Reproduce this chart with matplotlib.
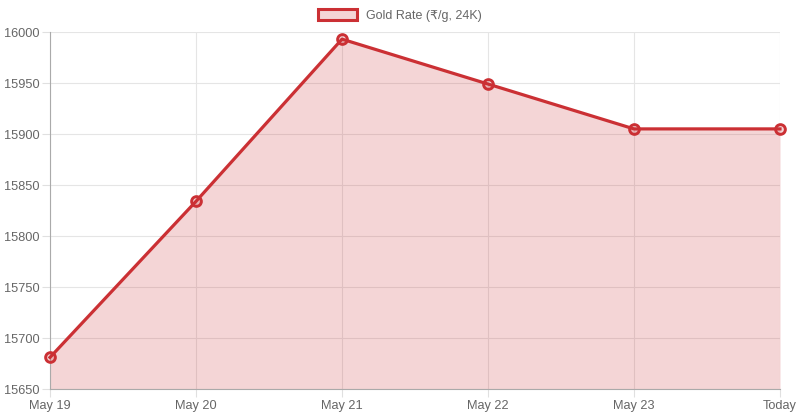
import matplotlib.pyplot as plt
from matplotlib.patches import Patch

plt.rcParams['font.family'] = ['Liberation Sans', 'DejaVu Sans']

dates = ['May 19', 'May 20', 'May 21', 'May 22', 'May 23', 'Today']
rates = [15681, 15834, 15993, 15949, 15905, 15905]

line_c = '#cb3034'
fill_c = (203/255, 48/255, 52/255, 0.2)

fig = plt.figure(figsize=(8, 4.2), dpi=100)
ax = fig.add_axes([0.0625, 0.0738, 0.9125, 0.85])

x = list(range(len(dates)))
ax.fill_between(x, rates, 15650, color=fill_c, lw=0)
ax.plot(x, rates, color=line_c, lw=2.3, marker='o', markersize=7,
        markerfacecolor=fill_c, markeredgecolor=line_c, markeredgewidth=2.1,
        zorder=3, clip_on=False)

ax.set_xlim(0, len(dates) - 1)
ax.set_ylim(15650, 16000)
ax.set_xticks(x)
ax.set_xticklabels(dates)
ax.set_yticks(range(15650, 16001, 50))

ax.grid(True, color='#e5e5e5', lw=0.8)
ax.set_axisbelow(True)
for s in ['top', 'right']:
    ax.spines[s].set_visible(False)
for s in ['left', 'bottom']:
    ax.spines[s].set_color('#aaaaaa')
ax.tick_params(colors='#e0e0e0', labelcolor='#666666', labelsize=9.2, length=6)
ax.tick_params(axis='y', pad=1.5)
ax.tick_params(axis='x', pad=2)

fig.legend(handles=[Patch(facecolor=fill_c, edgecolor=line_c, lw=2.2)],
           labels=['Gold Rate (₹/g, 24K)'], loc='upper center', bbox_to_anchor=(0.5, 1.005),
           frameon=False, fontsize=9, labelcolor='#666666', handlelength=3.1, handleheight=0.9)

fig.savefig('out.png')
